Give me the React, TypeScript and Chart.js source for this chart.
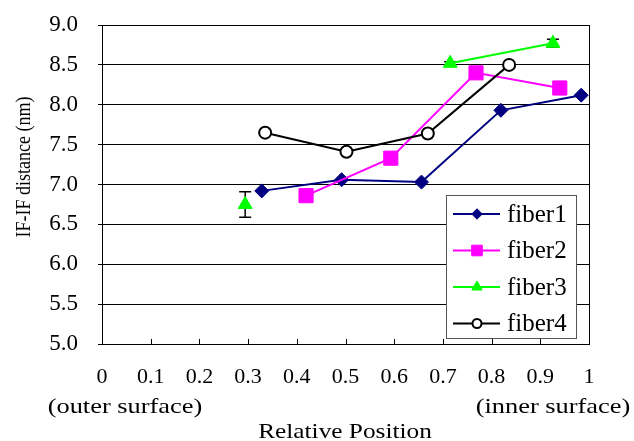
import { useEffect, useRef } from 'react';
import { Chart, registerables } from 'chart.js';
import { drawPoint } from 'chart.js/helpers';

Chart.register(...registerables);

const SERIF = "'Liberation Serif', 'Times New Roman', serif";

const seriesNames = ['fiber1', 'fiber2', 'fiber3', 'fiber4'];
const fiber1X = [0.328, 0.492, 0.656, 0.819, 0.984];
const fiber1Y = [6.92, 7.06, 7.03, 7.93, 8.12];
const fiber2X = [0.419, 0.593, 0.768, 0.94];
const fiber2Y = [6.86, 7.33, 8.4, 8.21];
const fiber3X = [0.294, 0.715, 0.926];
const fiber3Y = [6.75, 8.52, 8.77];
const fiber3Err = [0.16, 0.02, 0.05];
const fiber4X = [0.335, 0.502, 0.669, 0.836];
const fiber4Y = [7.65, 7.41, 7.64, 8.5];

const xMin = 0, xMax = 1, xStep = 0.1;
const yMin = 5, yMax = 9, yStep = 0.5;
const xEndLabels = ['(outer surface)', '(inner surface)'];
const xTitle = 'Relative Position';
const yTitle = 'IF-IF distance (nm)';

const colors = ['#000080', '#FF00FF', '#00FF00', '#000000'];
const styles = ['rectRot', 'rect', 'triangle', 'circle'];
const radii = [7, 10, 8, 6];
const fills = ['#000080', '#FF00FF', '#00FF00', '#FFFFFF'];

const pts = (xs: number[], ys: number[]) => xs.map((x, i) => ({ x, y: ys[i] }));

const errorBarPlugin = {
  id: 'errorBars',
  beforeDatasetsDraw(chart: any) {
    const { ctx } = chart;
    const ys = chart.scales.y;
    const xs = chart.scales.x;
    ctx.save();
    ctx.strokeStyle = '#000';
    ctx.lineWidth = 1.5;
    fiber3X.forEach((x, i) => {
      const px = xs.getPixelForValue(x);
      const top = ys.getPixelForValue(fiber3Y[i] + fiber3Err[i]);
      const bot = ys.getPixelForValue(fiber3Y[i] - fiber3Err[i]);
      ctx.beginPath();
      ctx.moveTo(px, top); ctx.lineTo(px, bot);
      ctx.moveTo(px - 6, top); ctx.lineTo(px + 6, top);
      ctx.moveTo(px - 6, bot); ctx.lineTo(px + 6, bot);
      ctx.stroke();
    });
    // inward x tick marks
    ctx.lineWidth = 1;
    const bottom = chart.chartArea.bottom;
    xs.ticks.forEach((t: any) => {
      const px = Math.round(xs.getPixelForValue(t.value)) + 0.5;
      ctx.beginPath();
      ctx.moveTo(px, bottom);
      ctx.lineTo(px, bottom - 5);
      ctx.stroke();
    });
    ctx.restore();
  },
};

const framePlugin = {
  id: 'frame',
  afterDraw(chart: any) {
    const { ctx, chartArea: a } = chart;
    ctx.save();
    ctx.strokeStyle = '#000';
    ctx.lineWidth = 1;
    ctx.strokeRect(Math.round(a.left) + 0.5, Math.round(a.top) + 0.5, Math.round(a.right - a.left), Math.round(a.bottom - a.top));

    // legend
    const lx = 446, ly = 195, lw = 130, lh = 143;
    ctx.fillStyle = '#fff';
    ctx.fillRect(lx, ly, lw, lh);
    ctx.strokeStyle = '#555';
    ctx.strokeRect(lx + 0.5, ly + 0.5, lw, lh);
    seriesNames.forEach((name, i) => {
      const cy = 214 + i * 36.5;
      ctx.strokeStyle = colors[i];
      ctx.lineWidth = 2;
      ctx.beginPath();
      ctx.moveTo(453, cy); ctx.lineTo(500, cy);
      ctx.stroke();
      ctx.fillStyle = fills[i];
      ctx.strokeStyle = i === 3 ? '#000' : colors[i];
      ctx.lineWidth = i === 3 ? 2 : 1;
      drawPoint(ctx, { pointStyle: styles[i], radius: radii[i] * 0.75, rotation: 0, borderWidth: ctx.lineWidth }, 477, cy);
      ctx.fillStyle = '#000';
      ctx.font = `25px ${SERIF}`;
      ctx.textAlign = 'left';
      ctx.textBaseline = 'middle';
      ctx.fillText(name, 507, cy + 1);
    });

    ctx.fillStyle = '#000';
    ctx.textAlign = 'center';
    ctx.textBaseline = 'alphabetic';
    ctx.font = `22px ${SERIF}`;
    ctx.save();
    ctx.translate(345, 438);
    ctx.scale(1.15, 1);
    ctx.fillText(xTitle, 0, 0);
    ctx.restore();

    ctx.save();
    ctx.translate(125, 413);
    ctx.scale(1.2, 1);
    ctx.fillText(xEndLabels[0], 0, 0);
    ctx.restore();

    ctx.save();
    ctx.translate(553, 413);
    ctx.scale(1.2, 1);
    ctx.fillText(xEndLabels[1], 0, 0);
    ctx.restore();

    ctx.save();
    ctx.translate(30, 167);
    ctx.rotate(-Math.PI / 2);
    ctx.scale(0.9, 1.1);
    ctx.font = `20px ${SERIF}`;
    ctx.fillText(yTitle, 0, 0);
    ctx.restore();

    ctx.restore();
  },
};

export default function App() {
  const ref = useRef<HTMLCanvasElement>(null);
  useEffect(() => {
    const xsArr = [fiber1X, fiber2X, fiber3X, fiber4X];
    const ysArr = [fiber1Y, fiber2Y, fiber3Y, fiber4Y];
    const chart = new Chart(ref.current!, {
      type: 'scatter',
      data: {
        datasets: seriesNames.map((name, i) => ({
          label: name,
          data: pts(xsArr[i], ysArr[i]),
          showLine: true,
          borderColor: colors[i],
          borderWidth: 2,
          backgroundColor: fills[i],
          pointStyle: styles[i] as any,
          pointRadius: radii[i],
          pointBackgroundColor: fills[i],
          pointBorderColor: i === 3 ? '#000' : colors[i],
          pointBorderWidth: i === 3 ? 2 : 1,
          order: 4 - i,
          segment: i === 2 ? { borderColor: (c: any) => (c.p0DataIndex === 0 ? 'rgba(0,0,0,0)' : colors[2]) } : undefined,
        })),
      },
      options: {
        animation: false,
        responsive: false,
        layout: { padding: { top: 25, right: 45, left: 0, bottom: 0 } },
        plugins: { legend: { display: false }, tooltip: { enabled: false } },
        scales: {
          x: {
            type: 'linear',
            min: xMin,
            max: xMax,
            afterFit(scale: any) {
              scale.height = 97;
              scale.paddingLeft = 0; scale.paddingRight = 0; scale.paddingTop = 0; scale.paddingBottom = 0;
            },
            ticks: {
              stepSize: xStep,
              color: '#000',
              font: { family: SERIF, size: 22 },
              padding: 20,
              maxRotation: 0,
              autoSkip: false,
              callback: (v: any) => String(Number(Number(v).toFixed(1))),
            },
            grid: { display: false, drawTicks: false },
            border: { display: true, color: '#000', width: 1 },
          },
          y: {
            type: 'linear',
            min: yMin,
            max: yMax,
            afterFit(scale: any) {
              scale.width = 102;
              scale.paddingTop = 0; scale.paddingBottom = 0; scale.paddingLeft = 0; scale.paddingRight = 0;
            },
            ticks: {
              stepSize: yStep,
              color: '#000',
              font: { family: SERIF, size: 23 },
              padding: 20,
              callback: (v: any) => Number(v).toFixed(1),
            },
            grid: { color: '#000', lineWidth: 1, drawTicks: true, tickLength: 4 },
            border: { display: true, color: '#000', width: 1 },
          },
        },
      },
      plugins: [errorBarPlugin, framePlugin],
    });
    return () => chart.destroy();
  }, []);
  return (
    <div style={{ position: 'fixed', left: 0, top: 0, width: 634, height: 441, background: '#fff' }}>
      <canvas ref={ref} width={634} height={441} style={{ display: 'block' }} />
    </div>
  );
}
